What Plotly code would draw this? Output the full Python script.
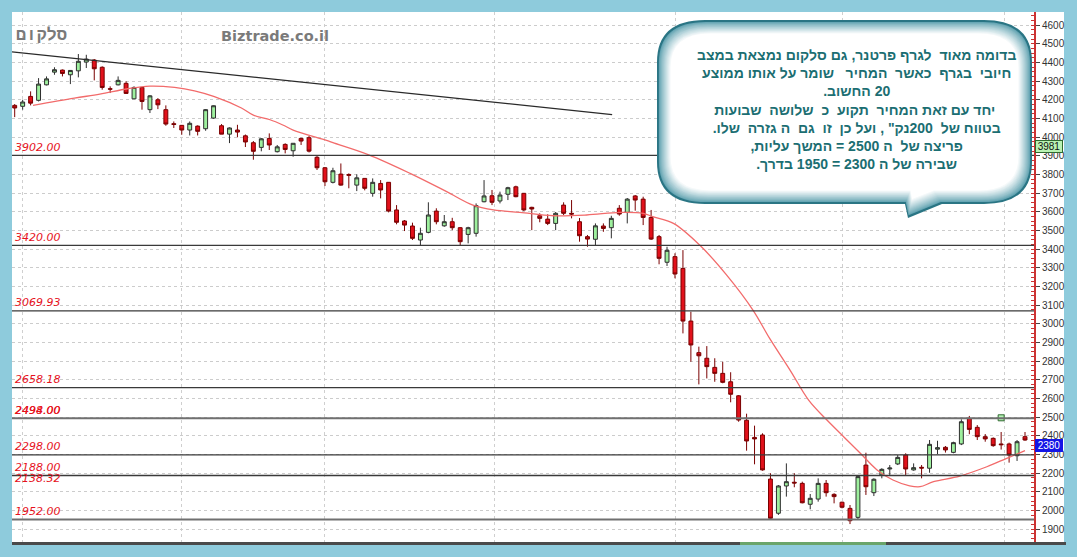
import plotly.graph_objects as go

# ---------------- data ----------------
opens = [4170,4165,4218,4197,4280,4348,4359,4334,4355,4402,4413,4374,4259,4280,4288,4205,4266,4147,4200,4147,
         4072,4063,4038,4059,4045,4102,4061,4016,4038,4007,3970,3945,3993,3922,3961,3927,3993,3997,3892,3836,
         3758,3802,3800,3743,3779,3699,3752,3758,3610,3551,3524,3449,3490,3604,3525,3547,3515,3479,3485,3654,
         3686,3658,3694,3734,3699,3624,3579,3561,3538,3636,3592,3547,3467,3453,3524,3515,3619,3597,3685,3668,
         3570,3467,3330,3360,3297,3015,2846,2816,2767,2735,2690,2615,2484,2392,2405,2169,1986,2132,2152,2146,
         2034,2062,2146,2087,2045,2012,1964,2244,2096,2191,2223,2250,2298,2218,2232,2227,2329,2339,2312,2357,
         2494,2446,2396,2387,2357,2357,2294,2396]
highs = [4177,4200,4245,4316,4325,4374,4362,4359,4445,4441,4418,4379,4272,4325,4299,4272,4268,4225,4209,4170,
         4084,4065,4084,4063,4150,4170,4070,4052,4066,4014,3979,3995,4020,3958,3967,3968,3997,4006,3904,3840,
         3836,3859,3806,3801,3781,3779,3770,3759,3636,3556,3542,3515,3651,3619,3583,3568,3518,3520,3645,3770,
         3717,3708,3734,3740,3701,3627,3592,3587,3599,3651,3663,3567,3476,3538,3538,3579,3636,3674,3690,3681,
         3610,3476,3413,3378,3395,3065,2878,2881,2816,2797,2741,2619,2519,2455,2414,2200,2137,2253,2200,2155,
         2089,2173,2164,2093,2048,2030,2185,2310,2173,2227,2244,2298,2307,2253,2244,2378,2374,2346,2369,2489,
         2507,2458,2410,2392,2421,2364,2378,2421]
lows = [4107,4147,4170,4191,4277,4334,4325,4284,4320,4370,4304,4254,4236,4277,4232,4204,4147,4129,4150,4061,
        4049,4013,4009,4009,4034,4098,4016,3968,3999,3947,3879,3924,3931,3918,3913,3895,3958,3918,3824,3738,
        3752,3740,3726,3711,3715,3681,3672,3597,3533,3497,3449,3422,3485,3533,3520,3502,3422,3431,3467,3651,
        3636,3645,3663,3678,3604,3502,3544,3529,3502,3583,3565,3440,3413,3418,3493,3458,3579,3538,3606,3529,
        3449,3319,3310,3244,2949,2797,2676,2708,2690,2682,2580,2476,2321,2248,2214,1950,1977,2075,2125,2039,
        2007,2048,2075,2039,2012,1928,1955,2084,2078,2173,2191,2244,2191,2214,2173,2203,2303,2311,2307,2351,
        2409,2378,2369,2342,2327,2257,2266,2374]
closes = [4156,4188,4182,4284,4312,4361,4341,4357,4406,4418,4366,4266,4257,4304,4234,4266,4191,4221,4173,4070,
          4068,4038,4074,4031,4147,4168,4016,4049,4027,3974,3924,3991,3958,3948,3934,3967,3979,3925,3836,3761,
          3820,3743,3796,3782,3726,3758,3717,3604,3544,3529,3458,3485,3583,3547,3547,3515,3440,3515,3633,3685,
          3651,3690,3729,3681,3610,3615,3565,3538,3592,3592,3588,3472,3454,3525,3511,3565,3588,3668,3663,3570,
          3454,3351,3394,3267,3015,2887,2829,2771,2735,2687,2623,2485,2373,2384,2218,1959,2132,2155,2148,2042,
          2066,2146,2096,2075,2018,1946,2182,2128,2168,2221,2228,2285,2223,2230,2228,2355,2337,2325,2364,2476,
          2435,2396,2384,2348,2353,2298,2369,2378]
bars = list(range(len(opens)))

# 20-period moving average (bar position, value)
ma_x = [2.3,7.5,10.7,14.2,17.0,20.1,22.6,25.1,28.5,30.0,32.1,33.7,35.0,39.2,40.0,44.5,49.7,54.3,57.6,60.2,
        63.5,67.7,71.9,76.1,79.0,80.2,82.8,86.1,89.5,92.8,94.9,97.5,99.8,102.1,104.2,106.3,108.4,110.4,112.5,
        113.8,115.5,118.8,122.2,124.7,127.0]
ma_y = [4170,4209,4230,4259,4273,4266,4248,4217,4156,4118,4093,4065,4038,3982,3970,3905,3806,3708,3636,3610,
        3597,3579,3583,3597,3592,3574,3538,3422,3261,3074,2922,2750,2592,2485,2396,2307,2218,2164,2133,
        2128,2155,2185,2235,2280,2321]

# trend line
trend_x = [-0.34, 75.1]
trend_y = [4457, 4121]

# support / resistance levels
levels = [3902.00, 3420.00, 3069.93, 2658.18, 2494.00, 2298.00, 2188.00, 1952.00]
level_labels = ["3902.00", "3420.00", "3069.93", "2658.18", "2494.00", "2298.00", "2188.00", "1952.00"]
extra_labels = [("2498.00", 2494.00, 8), ("2138.32", 2138.32, 6)]

alert_x = [124]
alert_y = [2497]

grid_x = [1.04, 21.0, 38.9, 60.3, 83.1, 104.1, 124.4]

last_price = "2380"
last_price_pos = 2349
other_price = "3981"
other_price_pos = 3948

note_lines = [
    "בדומה מאוד  לגרף פרטנר, גם סלקום נמצאת במצב",
    "חיובי  בגרף  כאשר  המחיר   שומר על אותו ממוצע",
    "20 החשוב.",
    " יחד עם זאת המחיר  תקוע  כ  שלושה  שבועות",
    "בטווח של  200נק\" , ועל כן  זו  גם  ה גזרה  שלו.",
    "פריצה של  ה 2500 = המשך עליות,",
    "שבירה של ה 2300 = 1950 בדרך.",
]

# ---------------- layout geometry ----------------
W, H = 1077, 557
L, R, T, B = 12, 1034, 12, 542


def px(x):
    return (x - L) / (R - L)


def py(y):
    return (B - y) / (B - T)


fig = go.Figure()

fig.add_trace(go.Candlestick(
    x=bars, open=opens, high=highs, low=lows, close=closes,
    increasing=dict(line=dict(color="#2e2e2e", width=1), fillcolor="#9ef09e"),
    decreasing=dict(line=dict(color="#7a0000", width=1), fillcolor="#e2111b"),
    whiskerwidth=0, showlegend=False, hoverinfo="skip"))

fig.add_trace(go.Scatter(x=ma_x, y=ma_y, mode="lines", line=dict(color="#f26b6b", width=1.3, shape="spline"),
                         showlegend=False, hoverinfo="skip"))
fig.add_trace(go.Scatter(x=trend_x, y=trend_y, mode="lines", line=dict(color="#2a2a2a", width=1.2),
                         showlegend=False, hoverinfo="skip"))
fig.add_trace(go.Scatter(x=alert_x, y=alert_y, mode="markers",
                         marker=dict(symbol="square", size=6, color="#b6f3b6", line=dict(color="#2f6a2f", width=1)),
                         showlegend=False, hoverinfo="skip"))

shapes = []
# white panel extension behind the right axis labels
shapes.append(dict(type="rect", xref="paper", yref="paper", x0=0, x1=px(1064), y0=0, y1=1,
                   fillcolor="white", line=dict(width=0), layer="below"))
# level lines
for v in levels:
    grey = v in (2494.00, 1952.00)
    shapes.append(dict(type="line", xref="paper", yref="y", x0=0, x1=1, y0=v, y1=v,
                       line=dict(color="#707070" if grey else "#3a3a3a", width=2 if grey else 1.3)))
# bottom frame line
shapes.append(dict(type="line", xref="paper", yref="paper", x0=0, x1=px(1066), y0=py(543.5), y1=py(543.5),
                   line=dict(color="#4a4a4a", width=3)))
shapes.append(dict(type="line", xref="paper", yref="paper", x0=px(740), x1=px(886), y0=py(543.5), y1=py(543.5),
                   line=dict(color="#6aa56a", width=3)))


# speech bubble
def bubble(d):
    l, r, t, b = 657 + d, 1032 - d, 20 + d, 204 - d
    rx, ry = 48 - d * 0.6, 42 - d * 0.6
    tl, tr, tipx, tipy = 905 + d * 0.4, 942 - d * 0.6, 908 + d * 0.3, 218 - d * 1.4
    pts = [("M", (l + rx, t)), ("L", (r - rx, t)), ("Q", (r, t), (r, t + ry)), ("L", (r, b - ry)),
           ("Q", (r, b), (r - rx, b)), ("L", (tr, b)), ("L", (tipx, tipy)), ("L", (tl, b)),
           ("L", (l + rx, b)), ("Q", (l, b), (l, b - ry)), ("L", (l, t + ry)), ("Q", (l, t), (l + rx, t))]
    s = ""
    for p in pts:
        s += p[0] + " " + " ".join(f"{px(x):.5f},{py(y):.5f}" for x, y in p[1:]) + " "
    return s + "Z"


def mix(c1, c2, f):
    a = [int(c1[i:i + 2], 16) for i in (1, 3, 5)]
    b = [int(c2[i:i + 2], 16) for i in (1, 3, 5)]
    return "#" + "".join(f"{round(x + (y - x) * f):02x}" for x, y in zip(a, b))


shapes.append(dict(type="path", xref="paper", yref="paper", path=bubble(0), fillcolor="#2a7584",
                   line=dict(width=0), layer="above"))
n = 14
for k in range(1, n + 1):
    f = k / n
    shapes.append(dict(type="path", xref="paper", yref="paper", path=bubble(1 + k * 0.9),
                       fillcolor=mix("#4f98a8", "#ffffff", f ** 0.8), line=dict(width=0), layer="above"))

annotations = []
lab_font = dict(family="DejaVu Sans", size=11, color="#e6121c", style="italic")
for v, t in zip(levels, level_labels):
    annotations.append(dict(xref="paper", yref="y", x=px(13), y=v, text=t, showarrow=False,
                            xanchor="left", yanchor="middle", yshift=8, font=lab_font))
for t, v, sh in extra_labels:
    annotations.append(dict(xref="paper", yref="y", x=px(13), y=v, text=t, showarrow=False,
                            xanchor="left", yanchor="middle", yshift=sh, font=lab_font))

annotations.append(dict(xref="paper", yref="paper", x=px(14), y=py(36), text="סלקום", showarrow=False,
                        xanchor="left", yanchor="middle",
                        font=dict(family="Liberation Mono", size=17, color="#7a7a7a", weight="bold")))
annotations.append(dict(xref="paper", yref="paper", x=px(275), y=py(36), text="Biztrade.co.il", showarrow=False,
                        xanchor="center", yanchor="middle",
                        font=dict(family="DejaVu Sans", size=14.5, color="#7a7a7a", weight="bold")))

note_text = "<br>".join("\u202b" + s + "\u202c" for s in note_lines)
annotations.append(dict(xref="paper", yref="paper", x=px(856), y=py(110), text=note_text, showarrow=False,
                        xanchor="center", yanchor="middle", align="center",
                        font=dict(family="Liberation Sans", size=14, color="#1b6e72", weight="bold")))

annotations.append(dict(xref="paper", yref="y", x=px(1035), y=other_price_pos, text=other_price, showarrow=False,
                        xanchor="left", yanchor="middle", bgcolor="#b9f2b3", bordercolor="#2f6a2f",
                        borderwidth=1, borderpad=0, width=26,
                        font=dict(family="Liberation Sans", size=10, color="#111")))
annotations.append(dict(xref="paper", yref="y", x=px(1035), y=last_price_pos, text=last_price, showarrow=False,
                        xanchor="left", yanchor="middle", bgcolor="#1414e6", bordercolor="#1414e6",
                        borderwidth=1, borderpad=0, width=26,
                        font=dict(family="Liberation Sans", size=10, color="#ffffff")))

fig.update_layout(
    width=W, height=H,
    margin=dict(l=L, r=W - R, t=T, b=H - B),
    paper_bgcolor="#8ecbdc", plot_bgcolor="white",
    shapes=shapes, annotations=annotations,
    showlegend=False,
    xaxis=dict(range=[-0.34, 128.13], tickvals=grid_x, showticklabels=False, ticks="",
               showgrid=True, gridcolor="#cfcfcf", griddash="dot", gridwidth=1,
               zeroline=False, showline=False, rangeslider=dict(visible=False), fixedrange=True),
    yaxis=dict(side="right", range=[1832, 4670], dtick=100, tick0=0,
               showgrid=True, gridcolor="#cccccc", griddash="dot", gridwidth=1,
               zeroline=False, showline=True, linecolor="#cc3333", linewidth=2,
               ticks="outside", ticklen=4, tickcolor="#444", tickwidth=1,
               tickfont=dict(family="Liberation Sans", size=10, color="#333"),
               minor=dict(ticks="inside", ticklen=3, tickcolor="#cc3333", dtick=25, showgrid=False)),
)

fig.write_html("out.html", config={"displayModeBar": False},
               post_script="document.body.style.margin='0px';document.body.style.background='#8ecbdc';")
